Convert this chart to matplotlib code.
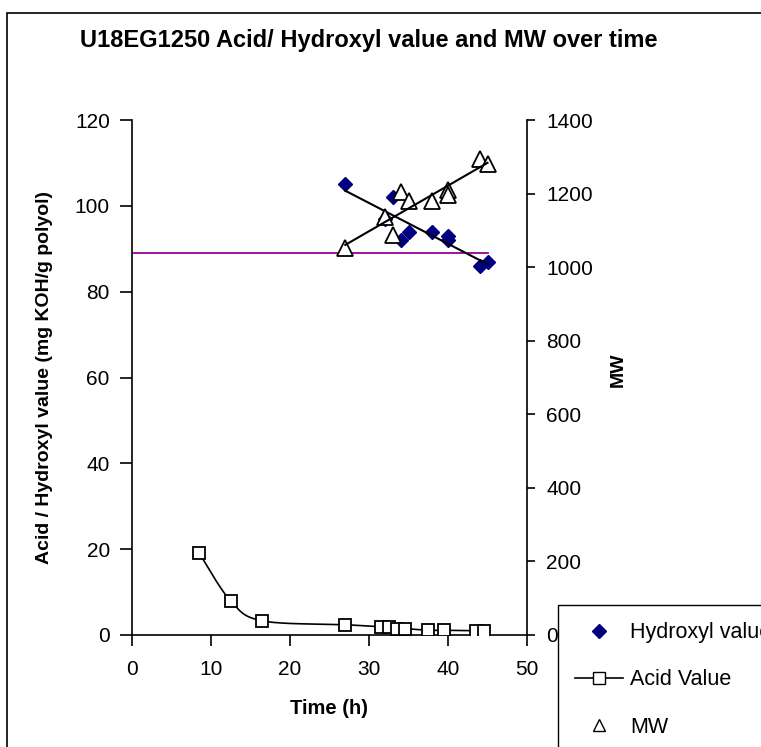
import matplotlib
matplotlib.use('Agg')
import matplotlib.pyplot as plt
from matplotlib.patches import Rectangle
from matplotlib.lines import Line2D
import numpy as np

plt.rcParams['font.family'] = ['Liberation Sans', 'DejaVu Sans']

# data
hyd_time = [27, 32, 33, 34, 35, 38, 40, 40, 44, 45]
hyd_value = [105, 97, 102, 92, 94, 94, 93, 92, 86, 87]

acid_time = [8.5, 12.5, 16.5, 27, 31.5, 32.5, 33.5, 34.5, 37.5, 39.5, 43.5, 44.5]
acid_value = [19.1, 7.9, 3.3, 2.4, 1.9, 1.9, 1.5, 1.5, 1.1, 1.1, 1.0, 1.0]

mw_time = [27, 32, 33, 34, 35, 38, 40, 40, 44, 45]
mw_value = [1052, 1136, 1087, 1204, 1180, 1180, 1210, 1196, 1294, 1280]

target_value = 89
target_span = [0, 45]


def smooth(xs, ys, n=30):
	# excel-like smoothed line (bezier with neighbour tangents)
	p = np.column_stack([xs, ys]).astype(float)
	p = np.vstack([p[0], p, p[-1]])
	out = []
	t = np.linspace(0, 1, n)[:, None]
	for i in range(1, len(p) - 2):
		p0, p1, p2, p3 = p[i-1], p[i], p[i+1], p[i+2]
		c1 = p1 + (p2 - p0) / 6
		c2 = p2 - (p3 - p1) / 6
		seg = (1-t)**3*p1 + 3*(1-t)**2*t*c1 + 3*(1-t)*t**2*c2 + t**3*p2
		out.append(seg)
	out = np.vstack(out)
	return out[:, 0], out[:, 1]


def main():
	fig = plt.figure(figsize=(7.61, 7.47), dpi=100)
	fig.patches.append(Rectangle((7/761, -0.1), 1.2, 1 - 13/747 + 0.1, transform=fig.transFigure,
		fill=False, edgecolor='black', linewidth=1.2))

	ax = fig.add_axes([132/761, 1 - 635/747, 395/761, 515/747])
	ax2 = ax.twinx()

	# acid value, smoothed line
	sx, sy = smooth(acid_time, acid_value)
	ax.plot(sx, sy, color='black', lw=1.2, zorder=2)
	ax.plot(acid_time, acid_value, ls='none', marker='s', ms=9, mfc='white', mec='black', mew=1.3, zorder=3)

	# target line
	ax.plot(target_span, [target_value, target_value], color='#990099', lw=1.3, zorder=1)

	# hydroxyl + linear trend
	ax.plot(hyd_time, hyd_value, ls='none', marker='D', ms=7, color='#000080', zorder=3)
	k, b = np.polyfit(hyd_time, hyd_value, 1)
	tx = np.array([min(hyd_time), max(hyd_time)])
	ax.plot(tx, k*tx + b, color='black', lw=1.5, zorder=4)

	# MW + linear trend
	ax2.plot(mw_time, mw_value, ls='none', marker='^', ms=11, mfc='white', mec='black', mew=1.3, zorder=3)
	k2, b2 = np.polyfit(mw_time, mw_value, 1)
	ax2.plot(tx, k2*tx + b2, color='black', lw=1.5, zorder=4)

	ax.set_xlim(0, 50)
	ax.set_ylim(0, 120)
	ax2.set_ylim(0, 1400)
	ax.set_xticks(range(0, 51, 10))
	ax.set_yticks(range(0, 121, 20))
	ax2.set_yticks(range(0, 1401, 200))

	for a in (ax, ax2):
		a.spines['top'].set_visible(False)
		a.patch.set_visible(False)
	ax.spines['right'].set_visible(False)
	ax2.spines['left'].set_visible(False)
	ax2.spines['bottom'].set_visible(False)
	for s in ax.spines.values():
		s.set_linewidth(1.2)
	ax2.spines['right'].set_linewidth(1.2)

	ax.tick_params(axis='x', direction='out', length=8, width=1.2, labelsize=15, pad=10)
	ax.tick_params(axis='y', direction='out', length=9, width=1.2, labelsize=15, pad=7)
	ax2.tick_params(axis='y', direction='out', length=6, width=1.2, labelsize=15, pad=8)

	ax.set_xlabel('Time (h)', fontsize=14.5, fontweight='bold')
	ax.set_ylabel('Acid / Hydroxyl value (mg KOH/g polyol)', fontsize=14, fontweight='bold')
	ax2.set_ylabel('MW', fontsize=14, fontweight='bold', rotation=90)
	ax.xaxis.set_label_coords(0.5, (635 - 709) / 515)
	ax.yaxis.set_label_coords((45 - 132) / 395, (635 - 377) / 515)
	ax2.yaxis.set_label_coords((618 - 132) / 395, (635 - 370) / 515)
	for lab in (ax.xaxis.label, ax.yaxis.label, ax2.yaxis.label):
		lab.set_va('center')
		lab.set_ha('center')

	fig.text(80/761, 1 - 40/747, 'U18EG1250 Acid/ Hydroxyl value and MW over time',
		fontsize=17, fontweight='bold', va='center', ha='left')

	handles = [
		Line2D([], [], ls='none', marker='D', ms=7, color='#000080'),
		Line2D([], [], color='black', lw=1.2, marker='s', ms=8, mfc='white', mec='black'),
		Line2D([], [], ls='none', marker='^', ms=8, mfc='white', mec='black'),
	]
	fig.legend(handles, ['Hydroxyl value', 'Acid Value', 'MW'], loc='upper left',
		bbox_to_anchor=(558/761, 1 - 605/747), fontsize=15.5, frameon=True, fancybox=False,
		edgecolor='black', framealpha=1, labelspacing=1.22, handlelength=2.2,
		handletextpad=0.35, borderpad=0.8, borderaxespad=0)

	fig.savefig('out.png', dpi=100)


if __name__ == '__main__':
	main()
